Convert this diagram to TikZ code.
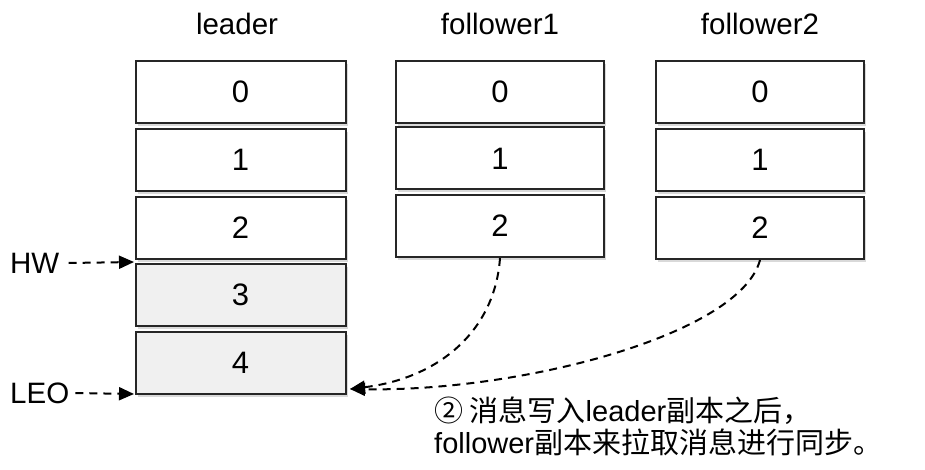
\documentclass[tikz,border=0pt]{standalone}
\usepackage{fontspec}
\setmainfont{Liberation Sans}
\newfontfamily\cjk{Noto Sans CJK SC}
\usetikzlibrary{shadows,arrows.meta}
\begin{document}
\begin{tikzpicture}[x=1pt,y=-1pt,
  cell/.style={draw=black!85, line width=2pt, minimum width=210pt, minimum height=62pt,
    inner sep=0pt, font=\fontsize{31}{31}\selectfont, fill=white,
    drop shadow={shadow xshift=2pt, shadow yshift=-3pt, opacity=0.3}},
  grey/.style={fill=black!6},
  title/.style={font=\fontsize{29.5}{29.5}\selectfont},
  side/.style={font=\fontsize{29.5}{29.5}\selectfont},
  dashline/.style={line width=2pt, dash pattern=on 8pt off 6pt},
  tip/.style={-{Triangle[length=15pt,width=13pt]}}
]
\useasboundingbox (0,0) rectangle (925,470);
% titles
\node[title] (tl) at (237,24) {leader};
\node[title] (tf1) at (500,24) {follower1};
\node[title] (tf2) at (760,24) {follower2};
% leader
\node[cell] (l0) at (240.5,92) {0};
\node[cell] (l1) at (240.5,160) {1};
\node[cell] (l2) at (240.5,228) {2};
\node[cell,grey] (l3) at (240.5,295) {3};
\node[cell,grey] (l4) at (240.5,363) {4};
% follower1
\node[cell,minimum width=208pt] (a0) at (500,92) {0};
\node[cell,minimum width=208pt] (a1) at (500,158.5) {1};
\node[cell,minimum width=208pt] (a2) at (500,226) {2};
% follower2
\node[cell,minimum width=208pt] (b0) at (760,92) {0};
\node[cell,minimum width=208pt] (b1) at (760,160) {1};
\node[cell,minimum width=208pt] (b2) at (760,228) {2};
% HW / LEO
\node[side,anchor=west,inner sep=0pt] (hw) at (10,263) {HW};
\node[side,anchor=west,inner sep=0pt] (leo) at (10,393) {LEO};
\coordinate (hwt) at (134,262);
\coordinate (leot) at (134,394);
\draw[dashline,tip] ([xshift=9pt]hw.east) -- (hwt);
\draw[dashline,tip] ([xshift=6pt]leo.east) -- (leot);
% sync curves
\coordinate (tgt) at (350,389);
\draw[dashline,tip] (a2.south) .. controls (495,330) and (440,378) .. (tgt);
\draw[dashline,tip] (b2.south) .. controls (740,335) and (520,392) .. (tgt);
% caption
\node[anchor=north west,align=left,inner sep=0pt,font=\fontsize{29}{32}\selectfont] (cap) at (434,397)
  {{\cjk ② 消息写入}leader{\cjk 副本之后，}\\follower{\cjk 副本来拉取消息进行同步。}};
\end{tikzpicture}
\end{document}
